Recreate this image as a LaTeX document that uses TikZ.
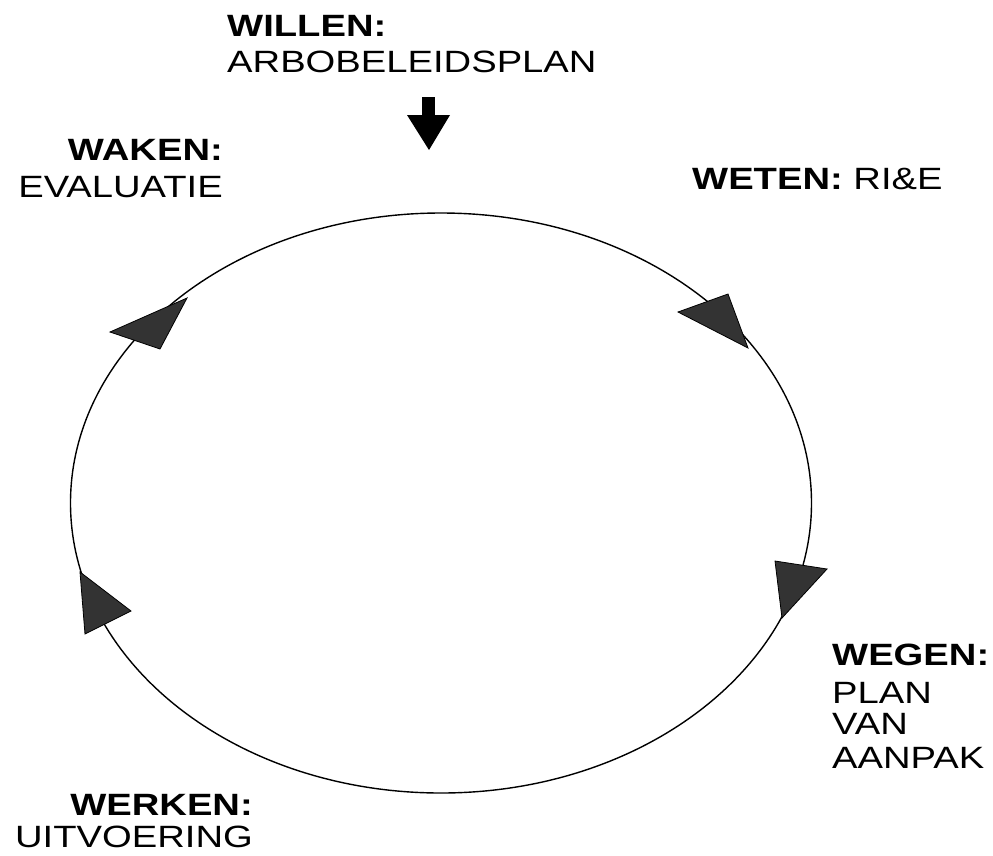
\documentclass[tikz,border=0pt]{standalone}
\usepackage{fontspec}
\setmainfont{Liberation Sans}[FakeStretch=1.24]
\begin{document}
\begin{tikzpicture}[x=1pt,y=-1pt,
  lbl/.style={inner sep=0pt,font=\fontsize{30.8}{36}\selectfont},
  tri/.style={draw=black,fill=black!80,line width=0.8pt,line join=miter},
  ring/.style={draw=black,line width=1.4pt}]
\useasboundingbox (0,0) rectangle (993,855);
% cycle
\draw[ring] (441,503) ellipse [x radius=370.5, y radius=290];
% arrowheads on the cycle
\filldraw[tri] (187,298) -- (110,332) -- (160,349) -- cycle;
\filldraw[tri] (728,294) -- (678,312) -- (748,348) -- cycle;
\filldraw[tri] (775,561) -- (827,569) -- (782,618) -- cycle;
\filldraw[tri] (80,572) -- (131,611) -- (85,634) -- cycle;
% down arrow
\fill[black] (422,97) rectangle (435,116);
\fill[black] (407,115) -- (450,115) -- (429,150) -- cycle;
% labels
\node[lbl,anchor=base west] (willen) at (227,36) {\textbf{WILLEN:}};
\node[lbl,anchor=base west] (arbo) at (227,72) {ARBOBELEIDSPLAN};
\node[lbl,anchor=base east] (waken) at (223,160) {\textbf{WAKEN:}};
\node[lbl,anchor=base east] (eval) at (223,197) {EVALUATIE};
\node[lbl,anchor=base west] (weten) at (692,189) {\textbf{WETEN:} RI\&E};
\node[lbl,anchor=base west] (wegen) at (832,665) {\textbf{WEGEN:}};
\node[lbl,anchor=base west] (plan) at (832,703) {PLAN};
\node[lbl,anchor=base west] (van) at (832,734) {VAN};
\node[lbl,anchor=base west] (aanpak) at (832,768) {AANPAK};
\node[lbl,anchor=base east] (werken) at (253,815) {\textbf{WERKEN:}};
\node[lbl,anchor=base east] (uitv) at (253,847) {UITVOERING};
\end{tikzpicture}
\end{document}
